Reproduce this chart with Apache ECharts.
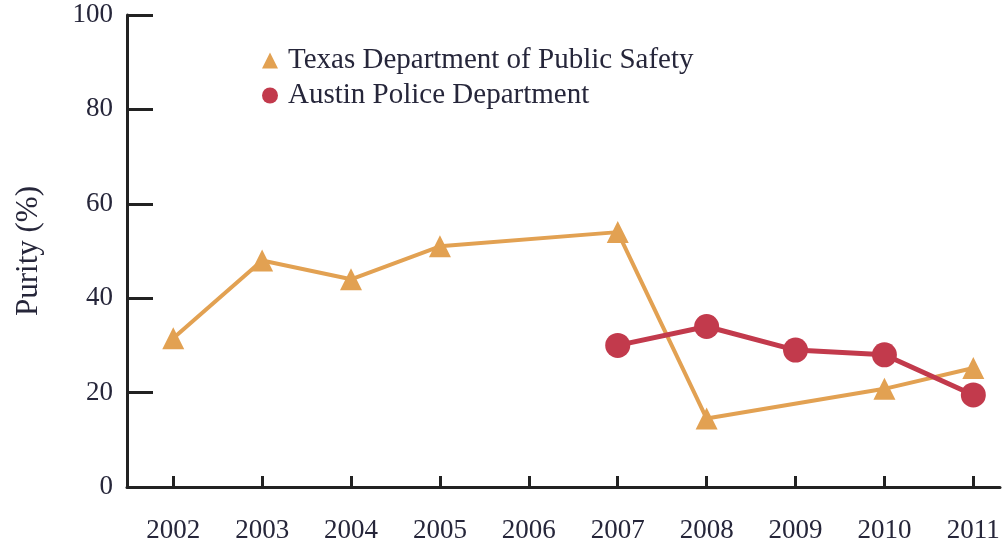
<!DOCTYPE html>
<html>
<head>
<meta charset="utf-8">
<script src="https://cdn.jsdelivr.net/npm/echarts@6/dist/echarts.min.js"></script>
<style>
html,body{margin:0;padding:0;background:#fff;}
#chart{width:1005px;height:546px;}
</style>
</head>
<body>
<div id="chart"></div>
<script>
const years = [2002, 2003, 2004, 2005, 2006, 2007, 2008, 2009, 2010, 2011];
const yTicks = [0, 20, 40, 60, 80, 100];
const texasName = 'Texas Department of Public Safety';
const austinName = 'Austin Police Department';
const texasValues = [31.5, 48, 44, 51, null, 54, 14.5, null, 20.8, 25.2];
const austinValues = [null, null, null, null, null, 30, 34, 29, 28, 19.5];

const pairs = (vals) => years.map((y, i) => [y, vals[i]]).filter(p => p[1] !== null);

const textColor = '#26263a';
const font = 'Liberation Serif';
const chart = echarts.init(document.getElementById('chart'));
chart.setOption({
  animation: false,
  backgroundColor: '#ffffff',
  textStyle: { fontFamily: font },
  grid: { left: 127, right: 5, top: 15, bottom: 59, containLabel: false, outerBoundsMode: 'none' },
  legend: {
    orient: 'vertical',
    left: 257,
    top: 41,
    itemGap: 6,
    itemWidth: 16,
    itemHeight: 16,
    textStyle: { fontFamily: font, fontSize: 29, color: textColor, padding: [0, 0, 0, 5] },
    data: [
      { name: texasName, icon: 'triangle' },
      { name: austinName, icon: 'circle' }
    ]
  },
  xAxis: {
    type: 'value',
    min: 2001.48,
    max: 2011.3,
    splitLine: { show: false },
    axisLine: { show: true, lineStyle: { color: '#222', width: 3 } },
    axisTick: { show: true, inside: true, length: 11, lineStyle: { color: '#222', width: 3 }, customValues: years },
    axisLabel: { customValues: years, fontFamily: font, fontSize: 27, color: textColor, margin: 30, formatter: v => String(v) }
  },
  yAxis: {
    type: 'value',
    min: 0,
    max: 100,
    interval: 20,
    name: 'Purity (%)',
    nameLocation: 'middle',
    nameGap: 83,
    nameTextStyle: { fontFamily: font, fontSize: 31, color: textColor },
    splitLine: { show: false },
    axisLine: { show: true, lineStyle: { color: '#222', width: 3 } },
    axisTick: { show: true, inside: true, length: 26, lineStyle: { color: '#222', width: 3 } },
    axisLabel: { fontFamily: font, fontSize: 27, color: textColor, margin: 14 }
  },
  series: [
    {
      name: texasName,
      type: 'line',
      data: pairs(texasValues),
      connectNulls: true,
      symbol: 'triangle',
      symbolSize: [22, 22],
      itemStyle: { color: '#E2A152' },
      lineStyle: { color: '#E2A152', width: 4 },
      z: 2
    },
    {
      name: austinName,
      type: 'line',
      data: pairs(austinValues),
      symbol: 'circle',
      symbolSize: 25,
      itemStyle: { color: '#C23A4C' },
      lineStyle: { color: '#C23A4C', width: 5 },
      z: 3
    }
  ]
});
</script>
</body>
</html>
